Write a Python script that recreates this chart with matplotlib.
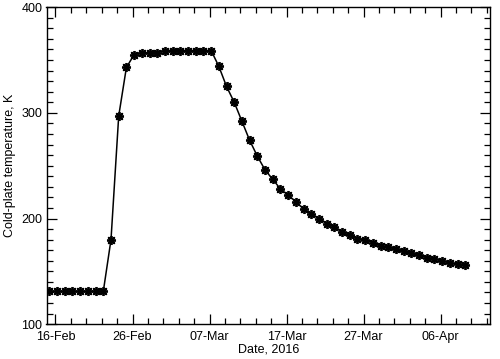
import datetime as dt
import numpy as np
import matplotlib
matplotlib.use('Agg')
import matplotlib.pyplot as plt
import matplotlib.dates as mdates
from matplotlib.ticker import MultipleLocator

plt.rcParams['font.family'] = ['Liberation Sans', 'DejaVu Sans']

# one reading per day, starting 15-Feb-2016 (slightly after midnight)
start = dt.datetime(2016, 2, 15, 5)
temp = [131, 131, 131, 131, 131, 131, 131, 131,
        180, 297, 343, 355, 357, 357, 357,
        359, 359, 359, 359, 359, 359, 359,
        344, 325, 310, 292, 274, 259, 246, 237, 228,
        222, 216, 209, 204, 200, 195, 192, 187, 184,
        181, 180, 177, 174, 173, 171, 169, 167, 165,
        163, 162, 160, 158, 157, 156]
dates = [start + dt.timedelta(days=i) for i in range(len(temp))]

fig = plt.figure(figsize=(5.0, 3.59), dpi=100)
ax = fig.add_axes([0.093, 0.097, 0.887, 0.883])

ax.plot(dates, temp, '-', color='black', lw=1.1,
        marker=(8, 2, 0), ms=6.5, mew=1.3, mec='black')

ax.set_xlim(dt.datetime(2016, 2, 14, 20), dt.datetime(2016, 4, 12, 10))
ax.set_ylim(100, 400)

major_days = [dt.datetime(2016, 2, 16) + dt.timedelta(days=10 * k) for k in range(6)]
ax.set_xticks(major_days)
ax.xaxis.set_major_formatter(mdates.DateFormatter('%d-%b'))
minor_days = [dt.datetime(2016, 2, 16) + dt.timedelta(days=2 * k) for k in range(29)]
ax.set_xticks(minor_days, minor=True)

ax.set_yticks([100, 200, 300, 400])
ax.yaxis.set_minor_locator(MultipleLocator(10))

ax.tick_params(which='both', direction='in', top=True, right=True,
               labelsize=9, width=0.9)
ax.tick_params(axis='x', pad=5)
ax.tick_params(axis='y', pad=3)
ax.tick_params(which='major', length=7)
ax.tick_params(which='minor', length=4)
for s in ax.spines.values():
    s.set_linewidth(1.0)

ax.set_xlabel('Date, 2016', fontsize=9, labelpad=0)
ax.set_ylabel('Cold-plate temperature, K', fontsize=9, labelpad=4)

fig.savefig('out.png', dpi=100)
